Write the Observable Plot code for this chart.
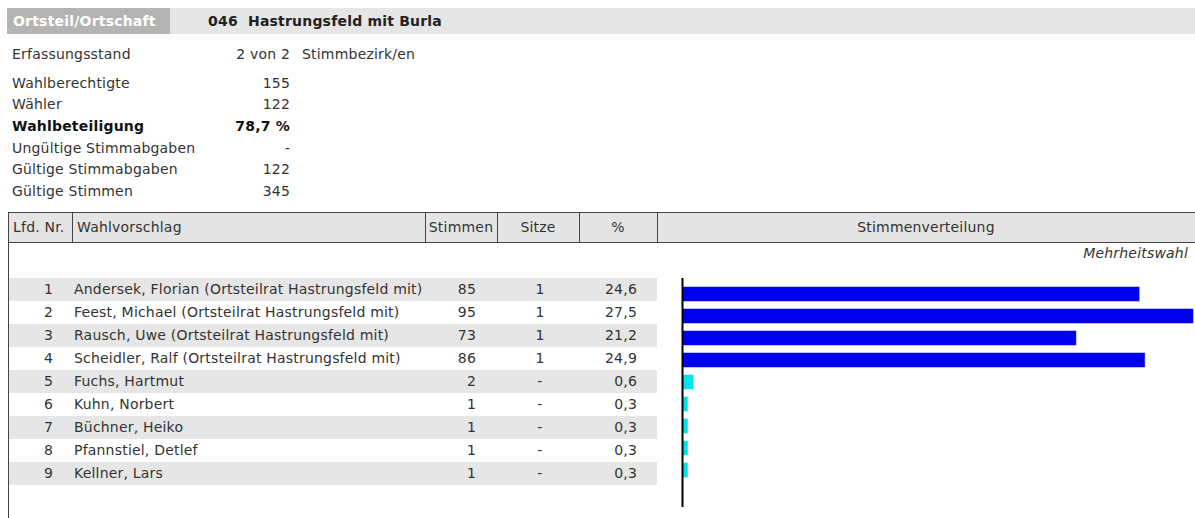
<!DOCTYPE html>
<html><head><meta charset="utf-8">
<script src="https://cdn.jsdelivr.net/npm/d3@7"></script>
<script src="https://cdn.jsdelivr.net/npm/@observablehq/plot@0.6"></script>
<style>
html,body{margin:0;padding:0;background:#fff;}
body{width:1195px;height:518px;overflow:hidden;position:relative;font-family:"DejaVu Sans",Verdana,sans-serif;font-size:14px;letter-spacing:0.2px;color:#333;}
.a{position:absolute;white-space:nowrap;}
</style></head><body>
<div id="root"></div>
<script>
// ---- data ----
const ortsteil = "046  Hastrungsfeld mit Burla";
const infoLabels = ["Erfassungsstand","Wahlberechtigte","Wähler","Wahlbeteiligung","Ungültige Stimmabgaben","Gültige Stimmabgaben","Gültige Stimmen"];
const infoValues = ["2 von 2","155","122","78,7 %","-","122","345"];
const headers = ["Lfd. Nr.","Wahlvorschlag","Stimmen","Sitze","%","Stimmenverteilung"];
const nr = [1,2,3,4,5,6,7,8,9];
const names = ["Andersek, Florian (Ortsteilrat Hastrungsfeld mit)","Feest, Michael (Ortsteilrat Hastrungsfeld mit)","Rausch, Uwe (Ortsteilrat Hastrungsfeld mit)","Scheidler, Ralf (Ortsteilrat Hastrungsfeld mit)","Fuchs, Hartmut","Kuhn, Norbert","Büchner, Heiko","Pfannstiel, Detlef","Kellner, Lars"];
const stimmen = [85,95,73,86,2,1,1,1,1];
const sitze = ["1","1","1","1","-","-","-","-","-"];
const prozent = [24.6,27.5,21.2,24.9,0.6,0.3,0.3,0.3,0.3];

const root = document.getElementById("root");
function box(x,y,w,h,css,text){
  const d=document.createElement("div");d.className="a";
  Object.assign(d.style,{left:x+"px",top:y+"px",width:w+"px",height:h+"px",lineHeight:h+"px"},css||{});
  if(text!==undefined)d.textContent=text;root.appendChild(d);return d;
}
// banner
box(7,8,163,26,{background:"#b4b4b4",color:"#fff",fontWeight:"bold",paddingLeft:"6px",boxSizing:"border-box"},"Ortsteil/Ortschaft");
box(170,8,1025,26,{background:"#e6e6e6",color:"#222",fontWeight:"bold",paddingLeft:"38px",boxSizing:"border-box",whiteSpace:"pre"},ortsteil);
// info block
const infoY=[54,83,104,126,148,169,191];
infoLabels.forEach((l,i)=>{
  const bold = i===3?{fontWeight:"bold",color:"#111"}:{};
  box(12,infoY[i]-10,220,20,bold,l);
  box(190,infoY[i]-10,100,20,Object.assign({textAlign:"right"},bold),infoValues[i]);
});
box(302,infoY[0]-10,200,20,{},"Stimmbezirk/en");
// table header
const colX=[8,72,425,497,579,657,1200];
const hTop=212, hH=31;
box(8,hTop,1200,hH,{background:"#e4e4e4",border:"1px solid #444",boxSizing:"border-box"});
for(let c=1;c<colX.length-1;c++) box(colX[c],hTop,1,hH,{background:"#444"});
headers.forEach((h,c)=>{
  const x0=colX[c], w=colX[c+1]-colX[c];
  const css = c<=1?{paddingLeft:"5px",boxSizing:"border-box"}:{textAlign:"center"};
  if(c===5){box(x0,hTop,1195-x0,hH,{textAlign:"center"},h);}
  else box(x0,hTop,w,hH,css,h);
});
box(8,hTop+hH,1,300,{background:"#444"});
box(900,243,288,20,{textAlign:"right",fontStyle:"italic"},"Mehrheitswahl");
// table rows
const rowTop=278, rowH=23;
names.forEach((n,i)=>{
  const y=rowTop+i*rowH;
  if(i%2===0) box(9,y,648,rowH,{background:"#e6e6e6"});
  box(9,y,44,rowH,{textAlign:"right"},String(nr[i]));
  box(74,y,350,rowH,{},n);
  box(425,y,51,rowH,{textAlign:"right"},String(stimmen[i]));
  box(497,y,86,rowH,{textAlign:"center"},sitze[i]);
  box(579,y,58,rowH,{textAlign:"right"},prozent[i].toFixed(1).replace(".",","));
});
// bar chart
const data = names.map((n,i)=>({name:n,p:prozent[i],status:sitze[i]==="1"?"gewählt":"nicht gewählt"}));
const chart = Plot.plot({
  width:538,height:245,marginLeft:25,marginRight:2,marginTop:8,marginBottom:8,
  x:{domain:[0,d3.max(prozent)],axis:null},
  y:{domain:names,range:[8,8+rowH*names.length],padding:0.38,axis:null},
  color:{domain:["gewählt","nicht gewählt"],range:["#0000ee","#00e4ee"]},
  marks:[
    Plot.barX(data,{x:"p",y:"name",fill:"status",stroke:"status",strokeOpacity:0.5,insetLeft:1}),
    Plot.ruleX([0],{stroke:"#000",strokeWidth:2})
  ]
});
const holder=box(657,270,538,245,{lineHeight:"normal"});
holder.appendChild(chart);
</script>
</body></html>
